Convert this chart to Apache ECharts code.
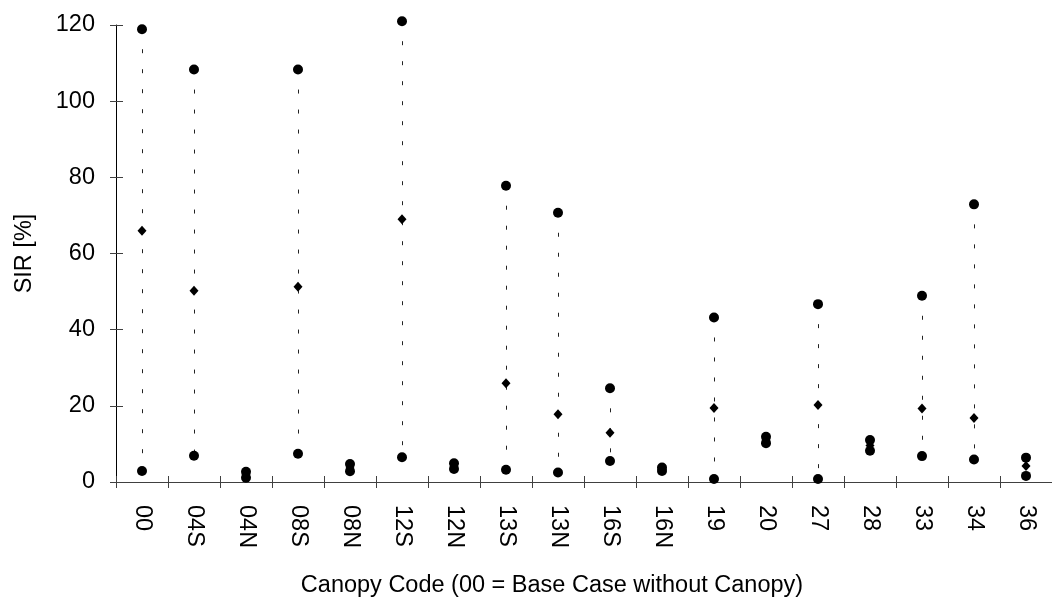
<!DOCTYPE html>
<html>
<head>
<meta charset="utf-8">
<script src="https://cdn.jsdelivr.net/npm/echarts@6/dist/echarts.min.js"></script>
<style>
html,body{margin:0;padding:0;background:#fff;}
#chart{width:1052px;height:600px;}
</style>
</head>
<body>
<div id="chart"></div>
<script>
const categories = ['00','04S','04N','08S','08N','12S','12N','13S','13N','16S','16N','19','20','27','28','33','34','36'];
const maxValues  = [118.9,108.3,2.7,108.3,4.7,121.0,4.9,77.8,70.7,24.6,3.8,43.2,11.9,46.7,11.0,48.9,72.9,6.4];
const meanValues = [66.0,50.2,1.9,51.3,3.7,69.0,4.1,25.9,17.8,12.9,3.3,19.4,11.0,20.2,9.6,19.3,16.8,4.2];
const minValues  = [2.9,6.9,1.1,7.4,2.8,6.5,3.4,3.2,2.5,5.5,2.9,0.8,10.2,0.8,8.2,6.8,5.9,1.6];
const yTicks = {min:0, max:120, interval:20};
const yName = 'SIR [%]';
const xName = 'Canopy Code (00 = Base Case without Canopy)';

const FONT = 'Liberation Sans, Arial, sans-serif';
const FS = 23.5;
const chart = echarts.init(document.getElementById('chart'), null, {renderer:'canvas'});

const hiLoData = categories.map((c, i) => [i, maxValues[i], minValues[i]]);

chart.setOption({
  animation: false,
  backgroundColor: '#fff',
  grid: {left:116, top:25, width:936, height:457, containLabel:false},
  xAxis: [
    {
      type:'category', data:categories, boundaryGap:true, position:'bottom',
      axisLine:{show:true, lineStyle:{color:'#404040', width:1}},
      axisTick:{show:true, inside:false, length:6, lineStyle:{color:'#404040'}},
      axisLabel:{rotate:-90, fontSize:FS, fontFamily:FONT, color:'#000', margin:23, interval:0},
      splitLine:{show:false}
    },
    {
      type:'category', data:categories, boundaryGap:true, position:'bottom',
      axisLine:{show:false},
      axisTick:{show:true, inside:true, length:6, lineStyle:{color:'#404040'}},
      axisLabel:{show:false},
      splitLine:{show:false}
    }
  ],
  yAxis: [
    {
      type:'value', min:yTicks.min, max:yTicks.max, interval:yTicks.interval, position:'left',
      name:yName, nameLocation:'middle', nameGap:79,
      nameTextStyle:{fontSize:FS, fontFamily:FONT, color:'#000'},
      axisLine:{show:true, lineStyle:{color:'#000', width:1}},
      axisTick:{show:true, inside:false, length:6, lineStyle:{color:'#404040'}},
      axisLabel:{fontSize:FS, fontFamily:FONT, color:'#000', margin:21},
      splitLine:{show:false}
    },
    {
      type:'value', min:yTicks.min, max:yTicks.max, interval:yTicks.interval, position:'left',
      axisLine:{show:false},
      axisTick:{show:true, inside:true, length:7, lineStyle:{color:'#404040'}},
      axisLabel:{show:false},
      splitLine:{show:false}
    }
  ],
  graphic: [
    {type:'text', x:552, y:586, style:{text:xName, font:FS + 'px ' + FONT, fill:'#000', textAlign:'center', textVerticalAlign:'middle'}}
  ],
  series: [
    {
      type:'custom', name:'range', xAxisIndex:0, yAxisIndex:0, clip:false,
      encode:{x:0, y:[1,2]},
      data:hiLoData,
      renderItem: function(params, api) {
        const x = api.value(0);
        const p1 = api.coord([x, api.value(1)]);
        const p2 = api.coord([x, api.value(2)]);
        return {type:'line', shape:{x1:Math.round(p1[0])+0.5, y1:p1[1], x2:Math.round(p2[0])+0.5, y2:p2[1]},
          style:{stroke:'#222', lineWidth:1, lineDash:[4,16]}};
      },
      z:1
    },
    {type:'scatter', name:'max', data:maxValues, symbol:'circle', symbolSize:10, itemStyle:{color:'#000', opacity:1}, clip:false, z:3},
    {type:'scatter', name:'mean', data:meanValues, symbol:'diamond', symbolSize:[9,10], itemStyle:{color:'#000', opacity:1}, clip:false, z:3},
    {type:'scatter', name:'min', data:minValues, symbol:'circle', symbolSize:10, itemStyle:{color:'#000', opacity:1}, clip:false, z:3}
  ]
});
</script>
</body>
</html>
